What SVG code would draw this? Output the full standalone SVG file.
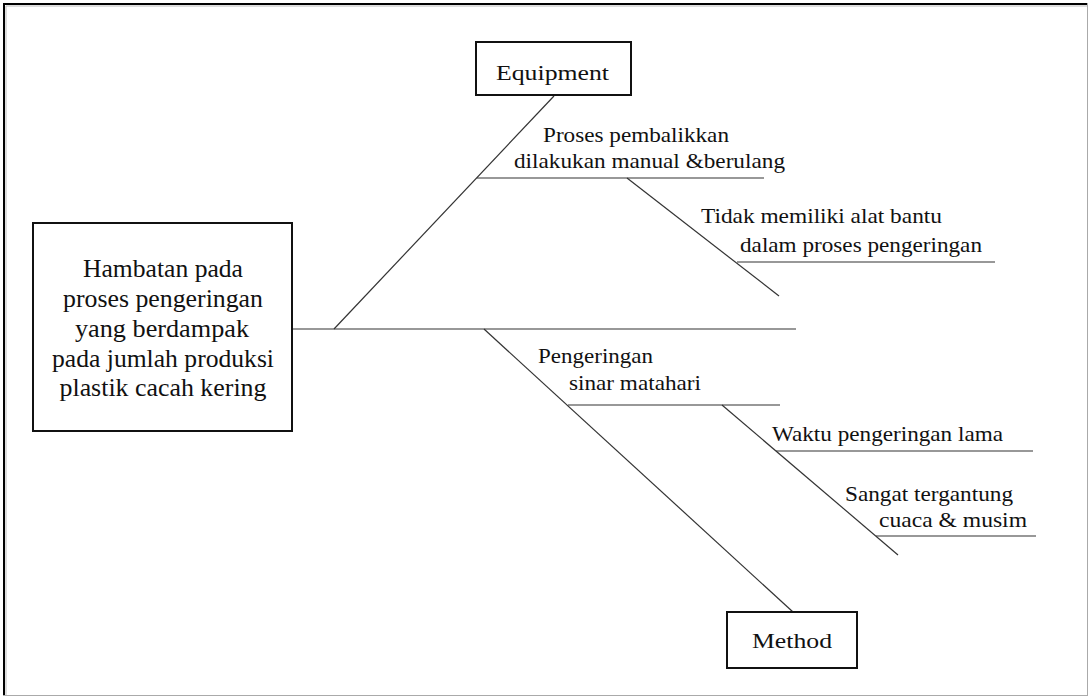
<svg xmlns="http://www.w3.org/2000/svg" width="1088" height="696" viewBox="0 0 1088 696">
<style>
text{font-family:'Liberation Serif','Times New Roman',Times,'DejaVu Serif',serif;fill:#111}
.t{font-size:22px}
.m{font-size:25px;text-anchor:middle}
.box{fill:#fff;stroke:#111;stroke-width:2}
.ln{stroke:#333;stroke-width:1.2;fill:none}
</style>
<rect x="0" y="0" width="1088" height="696" fill="#fff"/>
<g id="frame">
<path d="M4 696 V4 H1088" fill="none" stroke="#000" stroke-width="2"/>
<path d="M6 696 V6 H1087" fill="none" stroke="#bbb" stroke-width="1"/>
<line x1="1087.5" y1="3" x2="1087.5" y2="696" stroke="#aaa" stroke-width="1"/>
<line x1="3" y1="695.5" x2="1088" y2="695.5" stroke="#aaa" stroke-width="1"/>
</g>
<g id="connectors">
<line class="ln" x1="292" y1="329" x2="796" y2="329"/>
<line class="ln" x1="334" y1="329" x2="554" y2="96"/>
<line class="ln" x1="477" y1="178" x2="764" y2="178"/>
<line class="ln" x1="627" y1="178" x2="779" y2="296"/>
<line class="ln" x1="737" y1="262" x2="995" y2="262"/>
<line class="ln" x1="484" y1="329" x2="793" y2="612"/>
<line class="ln" x1="568" y1="405" x2="780" y2="405"/>
<line class="ln" x1="722" y1="405" x2="898" y2="555"/>
<line class="ln" x1="776" y1="451" x2="1033" y2="451"/>
<line class="ln" x1="876" y1="536" x2="1036" y2="536"/>
</g>
<g id="effect" font-family="Liberation Serif, serif">
<rect class="box" x="33" y="223" width="259" height="208"/>
<text class="m" x="163" y="277" textLength="160" lengthAdjust="spacingAndGlyphs">Hambatan pada</text>
<text class="m" x="163" y="307" textLength="200" lengthAdjust="spacingAndGlyphs">proses pengeringan</text>
<text class="m" x="162" y="337" textLength="174" lengthAdjust="spacingAndGlyphs">yang berdampak</text>
<text class="m" x="163" y="367" textLength="222" lengthAdjust="spacingAndGlyphs">pada jumlah produksi</text>
<text class="m" x="163" y="396" textLength="207" lengthAdjust="spacingAndGlyphs">plastik cacah kering</text>
</g>
<g id="equipment">
<rect class="box" x="476" y="42" width="155" height="53"/>
<text class="t" x="496" y="80" textLength="113" lengthAdjust="spacingAndGlyphs">Equipment</text>
</g>
<g id="method">
<rect class="box" x="727" y="612" width="130" height="56"/>
<text class="t" x="752" y="648" textLength="80" lengthAdjust="spacingAndGlyphs">Method</text>
</g>
<g id="cause-proses">
<text class="t" x="543" y="142" textLength="186" lengthAdjust="spacingAndGlyphs">Proses pembalikkan</text>
<text class="t" x="514" y="168" textLength="271" lengthAdjust="spacingAndGlyphs">dilakukan manual &amp;berulang</text>
</g>
<g id="cause-alat">
<text class="t" x="701" y="223" textLength="241" lengthAdjust="spacingAndGlyphs">Tidak memiliki alat bantu</text>
<text class="t" x="740" y="252" textLength="242" lengthAdjust="spacingAndGlyphs">dalam proses pengeringan</text>
</g>
<g id="cause-sinar">
<text class="t" x="538" y="363" textLength="115" lengthAdjust="spacingAndGlyphs">Pengeringan</text>
<text class="t" x="569" y="390" textLength="132" lengthAdjust="spacingAndGlyphs">sinar matahari</text>
</g>
<g id="cause-waktu">
<text class="t" x="772" y="441" textLength="231" lengthAdjust="spacingAndGlyphs">Waktu pengeringan lama</text>
</g>
<g id="cause-cuaca">
<text class="t" x="845" y="501" textLength="168" lengthAdjust="spacingAndGlyphs">Sangat tergantung</text>
<text class="t" x="879" y="527" textLength="148" lengthAdjust="spacingAndGlyphs">cuaca &amp; musim</text>
</g>
</svg>
